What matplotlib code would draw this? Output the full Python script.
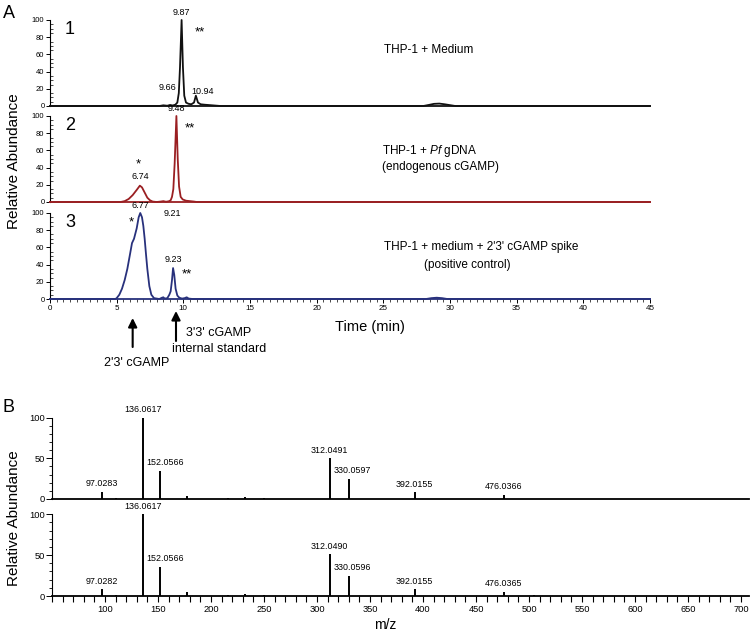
import matplotlib
matplotlib.use("Agg")
import matplotlib.pyplot as plt
from matplotlib import font_manager
from matplotlib.ticker import MultipleLocator, FixedLocator

# ---------------- data ----------------
# Panel A chromatograms (time in min, relative abundance %)
t1 = [0, 8.2, 8.5, 8.8, 9.0, 9.2, 9.4, 9.55, 9.66, 9.75, 9.87, 9.97, 10.07, 10.2, 10.4, 10.6, 10.8,
      10.94, 11.1, 11.3, 11.6, 12.0, 12.4, 12.8, 28.0, 28.4, 28.8, 29.2, 29.6, 30.0, 30.4, 45]
y1 = [0, 0, 0.8, 0.3, 1.2, 0.6, 1.5, 4, 15, 45, 100, 45, 12, 4, 2.5, 2, 4,
      12, 4, 2, 1.5, 1, 0.5, 0, 0, 1.2, 2.5, 2.8, 2, 1, 0, 0]

t2 = [0, 5.3, 5.6, 5.9, 6.2, 6.5, 6.74, 6.9, 7.1, 7.3, 7.5, 7.7, 8.0, 8.3, 8.5, 8.7, 8.9, 9.05,
      9.15, 9.25, 9.35, 9.48, 9.58, 9.68, 9.8, 9.95, 10.2, 10.5, 10.8, 11.0, 45]
y2 = [0, 0, 1, 3.5, 8, 14, 19, 17, 11, 5, 2, 0.5, 0, 0.5, 1, 0.3, 0.8, 2,
      6, 15, 45, 100, 50, 18, 6, 3, 1.5, 1, 0.5, 0, 0]

t3 = [0, 4.9, 5.0, 5.2, 5.4, 5.6, 5.8, 6.0, 6.15, 6.3, 6.5, 6.65, 6.77, 6.9, 7.0, 7.1, 7.2, 7.3,
      7.45, 7.6, 7.8, 8.2, 8.4, 8.5, 8.6, 8.8, 8.95, 9.05, 9.15, 9.23, 9.32, 9.42, 9.55, 9.7, 9.9,
      10.1, 10.25, 10.4, 10.7, 28.2, 28.6, 29.0, 29.4, 29.8, 45]
y3 = [0, 0, 1, 5, 12, 22, 35, 52, 65, 70, 82, 95, 100, 95, 85, 70, 52, 35,
      15, 5, 1, 0, 1.5, 2, 0.5, 1, 5, 9, 22, 36, 28, 12, 4, 1.5, 0.5,
      1, 2, 0.5, 0, 0, 1, 1.5, 1, 0, 0]

trace_names = ["1", "2", "3"]
trace_colors = ["#111111", "#9a1f22", "#28317c"]

# Panel B MS/MS spectra (m/z, relative abundance %)
mz_top = [97.0283, 110, 136.0617, 152.0566, 177, 216, 232, 250, 312.0491, 330.0597, 392.0155, 476.0366]
int_top = [9, 1.6, 100, 35, 3.7, 1, 2.5, 1.5, 50, 25, 8, 5.5]
mz_bot = [97.0282, 110, 136.0617, 152.0566, 177, 216, 232, 250, 312.0490, 330.0596, 392.0155, 476.0365, 505]
int_bot = [8, 1.2, 100, 36, 5, 1, 2, 1.5, 51, 25, 8.5, 5.5, 1]
labels_top = ["97.0283", "136.0617", "152.0566", "312.0491", "330.0597", "392.0155", "476.0366"]
labels_bot = ["97.0282", "136.0617", "152.0566", "312.0490", "330.0596", "392.0155", "476.0365"]
mz_ticks = [100, 150, 200, 250, 300, 350, 400, 450, 500, 550, 600, 650, 700]

# ---------------- style ----------------
plt.rcParams['font.family'] = ['Liberation Sans', 'DejaVu Sans']
plt.rcParams['mathtext.fontset'] = 'custom'
plt.rcParams['mathtext.rm'] = 'Liberation Sans'
plt.rcParams['mathtext.it'] = 'Liberation Sans:italic'
names = {f.name for f in font_manager.fontManager.ttflist}
NARROW = 'Liberation Sans Narrow' if 'Liberation Sans Narrow' in names else 'Liberation Sans'
NSIZE = 7.5 if NARROW == 'Liberation Sans Narrow' else 6.4

W, H = 754, 639
fig = plt.figure(figsize=(W / 100, H / 100), dpi=100)


def rect(x0, x1, ytop, ybot):
    return [x0 / W, 1 - ybot / H, (x1 - x0) / W, (ybot - ytop) / H]


a_rects = [rect(50, 650, 20, 106), rect(50, 650, 116, 202), rect(50, 650, 213, 299)]
a_data = [(t1, y1), (t2, y2), (t3, y3)]
axA = []
for i, (r, (t, y)) in enumerate(zip(a_rects, a_data)):
    ax = fig.add_axes(r)
    ax.plot(t, y, color=trace_colors[i], lw=1.3, clip_on=False, zorder=3)
    ax.set_xlim(0, 45)
    ax.set_ylim(0, 100)
    for s in ['top', 'right']:
        ax.spines[s].set_visible(False)
    ax.spines['left'].set_linewidth(0.8)
    ax.spines['bottom'].set_linewidth(1.3)
    ax.spines['bottom'].set_color(trace_colors[i])
    ax.yaxis.set_major_locator(MultipleLocator(20))
    ax.yaxis.set_minor_locator(MultipleLocator(5))
    ax.tick_params(axis='y', which='major', length=3, width=0.7, labelsize=5.5, pad=1)
    ax.tick_params(axis='y', which='minor', length=1.8, width=0.5, direction='in')
    ax.xaxis.set_major_locator(MultipleLocator(5))
    ax.xaxis.set_minor_locator(MultipleLocator(0.5))
    if i < 2:
        ax.tick_params(axis='x', which='both', bottom=False, labelbottom=False)
    else:
        ax.tick_params(axis='x', which='major', length=3, width=0.7, labelsize=5.8, pad=1.5)
        ax.tick_params(axis='x', which='minor', length=1.8, width=0.5)
    ax.patch.set_alpha(0)
    ax.text(1.5, 89.5, trace_names[i], fontsize=13, ha='center', va='center')
    axA.append(ax)

pk = dict(fontsize=6.5, ha='center', va='bottom', textcoords='offset points')
star = dict(fontsize=9.5, ha='center', va='bottom', textcoords='offset points')
a1, a2, a3 = axA
# Panel A1
a1.annotate("9.87", (9.87, 100), xytext=(0, 2), **pk)
a1.annotate("**", (9.87, 100), xytext=(13, -13), **star)
a1.annotate("9.66", (9.66, 15), xytext=(-8, 1), **pk)
a1.annotate("10.94", (10.94, 12), xytext=(5, 0), **pk)
a1.text(25.05, 65, "THP-1 + Medium", fontsize=8.5, va='center')
# Panel A2
a2.annotate("9.48", (9.48, 100), xytext=(0, 2), **pk)
a2.annotate("**", (9.48, 100), xytext=(10, -13), **star)
a2.annotate("6.74", (6.74, 19), xytext=(0, 3), **pk)
a2.annotate("*", (6.74, 19), xytext=(-1, 11), **star)
a2.annotate("9.21", (9.21, 0), xytext=(0, -8), fontsize=6.5, ha='center', va='center',
            textcoords='offset points')
a2.text(24.9, 59, "THP-1 + $\\it{Pf}$ gDNA", fontsize=8.5, va='center')
a2.text(24.9, 40.5, "(endogenous cGAMP)", fontsize=8.5, va='center')
# Panel A3
a3.annotate("6.77", (6.77, 100), xytext=(0, 2), **pk)
a3.annotate("*", (6.77, 100), xytext=(-6.5, -11), **star)
a3.annotate("9.23", (9.23, 36), xytext=(0, 3), **pk)
a3.annotate("**", (9.23, 36), xytext=(10, -9), **star)
a3.text(25.05, 60.5, "THP-1 + medium + 2'3' cGAMP spike", fontsize=8.5, va='center')
a3.text(28.05, 39.5, "(positive control)", fontsize=8.5, va='center')

# arrows under panel A3
arr = dict(arrowstyle='-|>', mutation_scale=13, lw=1.5, color='black', shrinkA=0, shrinkB=0)
a3.annotate("", xy=(6.2, 1 - 318 / H), xytext=(6.2, 1 - 347 / H),
            xycoords=('data', 'figure fraction'), textcoords=('data', 'figure fraction'),
            arrowprops=arr)
a3.annotate("", xy=(9.45, 1 - 311 / H), xytext=(9.45, 1 - 341 / H),
            xycoords=('data', 'figure fraction'), textcoords=('data', 'figure fraction'),
            arrowprops=arr)
fig.text(137 / W, 1 - 363 / H, "2'3' cGAMP", fontsize=9, ha='center', va='center')
fig.text(186 / W, 1 - 333 / H, "3'3' cGAMP", fontsize=9, ha='left', va='center')
fig.text(172 / W, 1 - 349 / H, "internal standard", fontsize=9, ha='left', va='center')
fig.text(370 / W, 1 - 327 / H, "Time (min)", fontsize=10.5, ha='center', va='center')
fig.text(14 / W, 1 - 161 / H, "Relative Abundance", fontsize=11, rotation=90,
         ha='center', va='center')
fig.text(3 / W, 1 - 13 / H, "A", fontsize=13, ha='left', va='center')

# ---------------- Panel B ----------------
label_dx = {"152.0566": 3.5, "330.0597": 2.5, "330.0596": 2.5}
b_rects = [rect(52, 749, 417.7, 499), rect(52, 749, 514.3, 596)]
b_data = [(mz_top, int_top, labels_top), (mz_bot, int_bot, labels_bot)]
for i, (r, (mz, it, labs)) in enumerate(zip(b_rects, b_data)):
    ax = fig.add_axes(r)
    ax.vlines(mz, 0, it, color='black', lw=1.4, clip_on=False)
    ax.set_xlim(50, 707.5)
    ax.set_ylim(0, 100)
    for s in ['top', 'right']:
        ax.spines[s].set_visible(False)
    ax.spines['left'].set_linewidth(0.8)
    ax.spines['bottom'].set_linewidth(1.3)
    ax.yaxis.set_major_locator(MultipleLocator(50))
    ax.yaxis.set_minor_locator(MultipleLocator(10))
    ax.tick_params(axis='y', which='major', length=4, width=0.7, pad=1)
    ax.tick_params(axis='y', which='minor', length=2.5, width=0.6)
    for lab in ax.get_yticklabels():
        lab.set_fontfamily(NARROW)
        lab.set_fontsize(NSIZE + 0.3)
    ax.xaxis.set_major_locator(FixedLocator(mz_ticks))
    ax.xaxis.set_minor_locator(MultipleLocator(10))
    if i == 0:
        ax.tick_params(axis='x', which='both', bottom=False, labelbottom=False)
    else:
        ax.tick_params(axis='x', which='major', length=4.5, width=0.8, pad=2)
        ax.tick_params(axis='x', which='minor', length=4, width=0.8)
        for lab in ax.get_xticklabels():
            lab.set_fontfamily(NARROW)
            lab.set_fontsize(NSIZE + 0.3)
    ax.patch.set_alpha(0)
    for m, v in zip(mz, it):
        lab = None
        for L in labs:
            if abs(float(L) - m) < 0.01:
                lab = L
        if lab is not None:
            ax.annotate(lab, (m, v), xytext=(label_dx.get(lab, 0), 2.5), textcoords='offset points',
                        ha='center', va='bottom', fontsize=NSIZE, family=NARROW)

fig.text(385 / W, 1 - 625 / H, "m/z", fontsize=10, ha='center', va='center')
fig.text(14 / W, 1 - 518 / H, "Relative Abundance", fontsize=11, rotation=90,
         ha='center', va='center')
fig.text(3 / W, 1 - 408 / H, "B", fontsize=13, ha='left', va='center')

fig.savefig("out.png", dpi=100)
